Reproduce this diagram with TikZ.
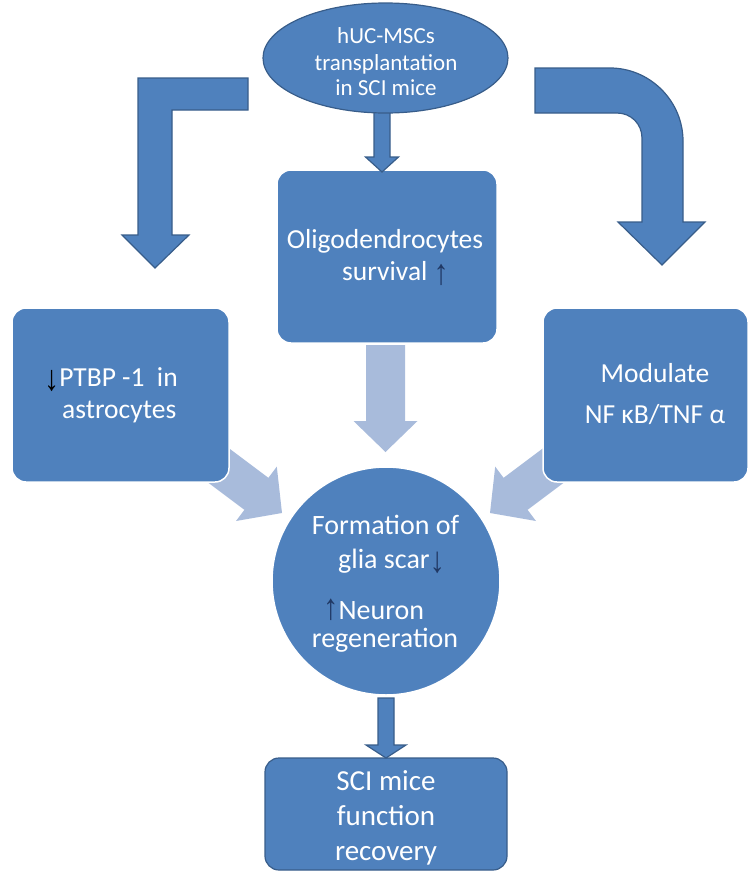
\documentclass[tikz,border=0pt]{standalone}
\usepackage{fontspec}
\usepackage{graphicx}
\setmainfont{Carlito}
\newfontfamily\arw{Liberation Serif}
\usetikzlibrary{calc,shapes.geometric}
\definecolor{boxblue}{HTML}{4F81BD}
\definecolor{edgeblue}{HTML}{385D8A}
\definecolor{lightarrow}{HTML}{A8BBDB}
\definecolor{navy}{HTML}{203864}
\newcommand\uparr[1][-4pt]{\raisebox{#1}{\scalebox{1.1}[1.3]{\arw ↑}}}
\newcommand\dnarr[1][-4pt]{\raisebox{#1}{\scalebox{1.1}[1.3]{\arw ↓}}}
\tikzset{
  blk/.style={fill=boxblue, draw=white, line width=1.5pt, rounded corners=14pt, inner sep=0pt, rectangle},
  txt/.style={text=white, inner sep=0pt, anchor=base},
  txtw/.style={text=white, inner sep=0pt, anchor=base west},
  darrow/.style={fill=boxblue, draw=edgeblue, line width=1.2pt, line join=miter},
  larrow/.style={fill=lightarrow},
}
% block arrow: style, start, tip, half shaft, half head, head length
\newcommand\blockarrow[6]{%
  \path[#1] let \p1=($(#3)-(#2)$), \n1={atan2(\y1,\x1)} in
    ($(#2)+({\n1+90}:#4)$) -- ($(#3)+({\n1+180}:#6)+({\n1+90}:#4)$) --
    ($(#3)+({\n1+180}:#6)+({\n1+90}:#5)$) -- (#3) --
    ($(#3)+({\n1+180}:#6)+({\n1-90}:#5)$) -- ($(#3)+({\n1+180}:#6)+({\n1-90}:#4)$) --
    ($(#2)+({\n1-90}:#4)$) -- cycle;}
\begin{document}
\begin{tikzpicture}[x=1pt,y=-1pt]
\useasboundingbox (0,0) rectangle (751,873);

% light arrows (behind the boxes)
\coordinate (lcS) at (385.5,345);  \coordinate (lcT) at (385.5,452);
\coordinate (llS) at (198,450);    \coordinate (llT) at (282,513);
\coordinate (lrS) at (574,450);    \coordinate (lrT) at (490,513);
\blockarrow{larrow}{lcS}{lcT}{19.5pt}{32pt}{31pt}
\blockarrow{larrow}{llS}{llT}{20pt}{34pt}{32pt}
\blockarrow{larrow}{lrS}{lrT}{20pt}{34pt}{32pt}

% boxes
\node[blk, minimum width=220pt, minimum height=173pt] (cbox) at (387,256.5) {};
\node[blk, minimum width=217pt, minimum height=174pt] (lbox) at (120.5,395) {};
\node[blk, minimum width=205pt, minimum height=174pt] (rbox) at (645.5,395) {};
\node[blk, draw=edgeblue, line width=1.2pt, minimum width=242pt, minimum height=112pt] (bbox) at (386,814) {};
\node[circle, fill=boxblue, draw=white, line width=1.5pt, minimum size=228pt, inner sep=0pt] (circ) at (386,581) {};

% top centre arrow (under the ellipse)
\coordinate (a1S) at (382,95); \coordinate (a1T) at (382,172);
\blockarrow{darrow}{a1S}{a1T}{8pt}{16.5pt}{15pt}

% ellipse
\node[ellipse, fill=boxblue, draw=edgeblue, line width=1.2pt, minimum width=245pt, minimum height=110pt, inner sep=0pt] (ell) at (385.5,58) {};

% bottom arrow
\coordinate (a2S) at (386,698); \coordinate (a2T) at (386,758);
\blockarrow{darrow}{a2S}{a2T}{8pt}{20pt}{13pt}

% left bent arrow
\path[darrow] (248,78) -- (138,78) -- (138,235) -- (122,235) -- (155,268) -- (189,235)
  -- (172,235) -- (172,110) -- (248,110) -- cycle;

% right curved arrow
\path[darrow] (535,68) -- (610,68) .. controls (650,68) and (683,101) .. (683,141)
  -- (683,222) -- (705,222) -- (662,265) -- (618,222) -- (642,222) -- (642,138)
  .. controls (642,124) and (631,113) .. (617,113) -- (535,113) -- cycle;

% texts
\begin{scope}[every node/.append style={font=\fontsize{23}{27}\selectfont}]
\node[txt] (e1) at (386,43) {hUC-MSCs};
\node[txt] (e2) at (386,70) {transplantation};
\node[txt] (e3) at (386,95) {in SCI mice};
\end{scope}

\begin{scope}[every node/.append style={font=\fontsize{27.5}{32}\selectfont}]
\node[txt] (c1) at (385,248) {Oligodendrocytes};
\node[txtw] (c2) at (342,280) {survival {\color{navy}\uparr}};
\node[txtw] (l1) at (44,386) {{\color{black}\dnarr[-4pt]}PTBP -1\ \ in};
\node[txtw] (l2) at (62,418) {astrocytes};
\node[txt] (r1) at (655,382) {Modulate};
\node[txt] (r2) at (655,423) {NF κB/TNF α};
\end{scope}

\begin{scope}[every node/.append style={font=\fontsize{28}{32}\selectfont}]
\node[txt] (o1) at (385.5,534) {Formation of};
\node[txtw] (o2) at (338,568) {glia scar{\color{navy}\dnarr}};
\node[txtw] (o3) at (323,619) {{\color{navy}\uparr[0pt]}Neuron};
\node[txt] (o4) at (385,647) {regeneration};
\end{scope}

\begin{scope}[every node/.append style={font=\fontsize{29}{34}\selectfont}]
\node[txt] (b1) at (386,790) {SCI mice};
\node[txt] (b2) at (386,825) {function};
\node[txt] (b3) at (386,860) {recovery};
\end{scope}
\end{tikzpicture}
\end{document}
